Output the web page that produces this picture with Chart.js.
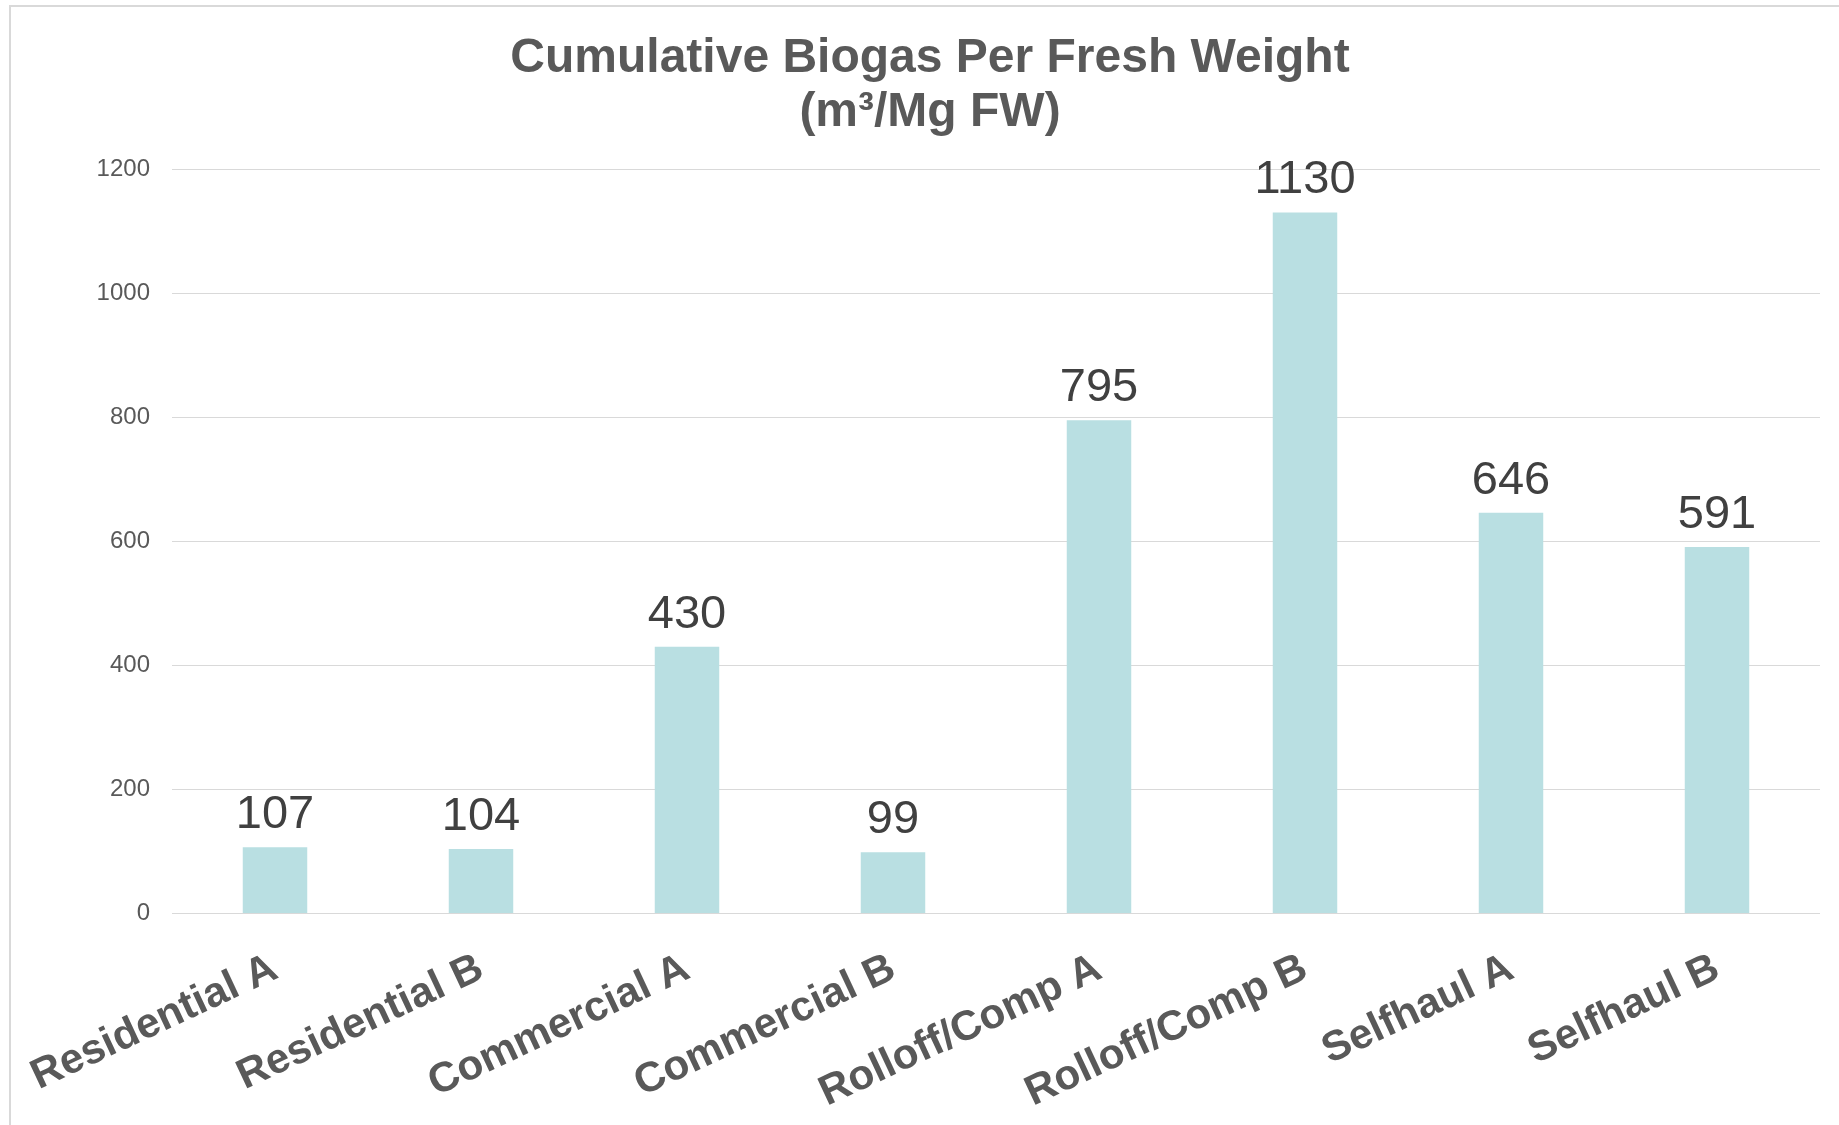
<!DOCTYPE html>
<html>
<head>
<meta charset="utf-8">
<title>Cumulative Biogas Per Fresh Weight</title>
<script src="https://cdn.jsdelivr.net/npm/chart.js@4/dist/chart.umd.min.js"></script>
<style>
  html, body { margin: 0; padding: 0; background: #ffffff; overflow: hidden; }
  #wrap { position: relative; width: 1839px; height: 1125px; }
  #frame {
    position: absolute; left: 9px; top: 5px; right: 0; bottom: 0;
    border-top: 2px solid #d9d9d9; border-left: 2px solid #d9d9d9;
  }
  #chart { position: absolute; left: 0; top: 0; }
</style>
</head>
<body>
<div id="wrap">
  <div id="frame"></div>
  <canvas id="chart" width="1839" height="1125"></canvas>
</div>
<script>
// Sample groups and their cumulative biogas yield (m³ per Mg fresh weight)
const categories = [
  'Residential A', 'Residential B', 'Commercial A', 'Commercial B',
  'Rolloff/Comp A', 'Rolloff/Comp B', 'Selfhaul A', 'Selfhaul B'
];
const biogasValues = [107, 104, 430, 99, 795, 1130, 646, 591];
const titleLines = ['Cumulative Biogas Per Fresh Weight', '(m³/Mg FW)'];
const yTicks = { min: 0, max: 1200, step: 200 };

// Writes each bar's value just above its top
const valueLabels = {
  id: 'valueLabels',
  afterDatasetsDraw(chart) {
    const ctx = chart.ctx;
    const meta = chart.getDatasetMeta(0);
    ctx.save();
    ctx.font = '47px "Liberation Sans", Arial, sans-serif';
    ctx.fillStyle = '#404040';
    ctx.textAlign = 'center';
    ctx.textBaseline = 'alphabetic';
    meta.data.forEach((bar, i) => {
      ctx.fillText(String(chart.data.datasets[0].data[i]), bar.x, bar.y - 19);
    });
    ctx.restore();
  }
};

new Chart(document.getElementById('chart'), {
  type: 'bar',
  data: {
    labels: categories,
    datasets: [{
      data: biogasValues,
      backgroundColor: '#b9dfe2',
      borderWidth: 0,
      categoryPercentage: 1,
      barPercentage: 0.313
    }]
  },
  options: {
    responsive: false,
    devicePixelRatio: 1,
    animation: false,
    layout: { padding: { left: 40, right: 19, top: 0, bottom: 0 } },
    plugins: {
      legend: { display: false },
      tooltip: { enabled: false },
      title: {
        display: true,
        text: titleLines,
        color: '#595959',
        font: { family: '"Liberation Sans", Arial, sans-serif', size: 48, weight: 'bold', lineHeight: 1.12 },
        padding: { top: 32, bottom: 29.5 }
      }
    },
    scales: {
      x: {
        grid: { display: false },
        border: { display: false },
        ticks: {
          color: '#595959',
          font: { family: '"Liberation Sans", Arial, sans-serif', size: 42, weight: 'bold' },
          minRotation: 25,
          maxRotation: 25,
          autoSkip: false,
          padding: 22
        },
        afterFit(scale) { scale.height = 1125 - 913.6; }
      },
      y: {
        min: yTicks.min,
        max: yTicks.max,
        grid: { color: '#d9d9d9', lineWidth: 1, drawTicks: false },
        border: { display: false },
        ticks: {
          stepSize: yTicks.step,
          color: '#595959',
          font: { family: '"Liberation Sans", Arial, sans-serif', size: 24 },
          padding: 22,
          callback: (value) => String(value)
        },
        afterFit(scale) { scale.width = 132; }
      }
    }
  },
  plugins: [valueLabels]
});
</script>
</body>
</html>
